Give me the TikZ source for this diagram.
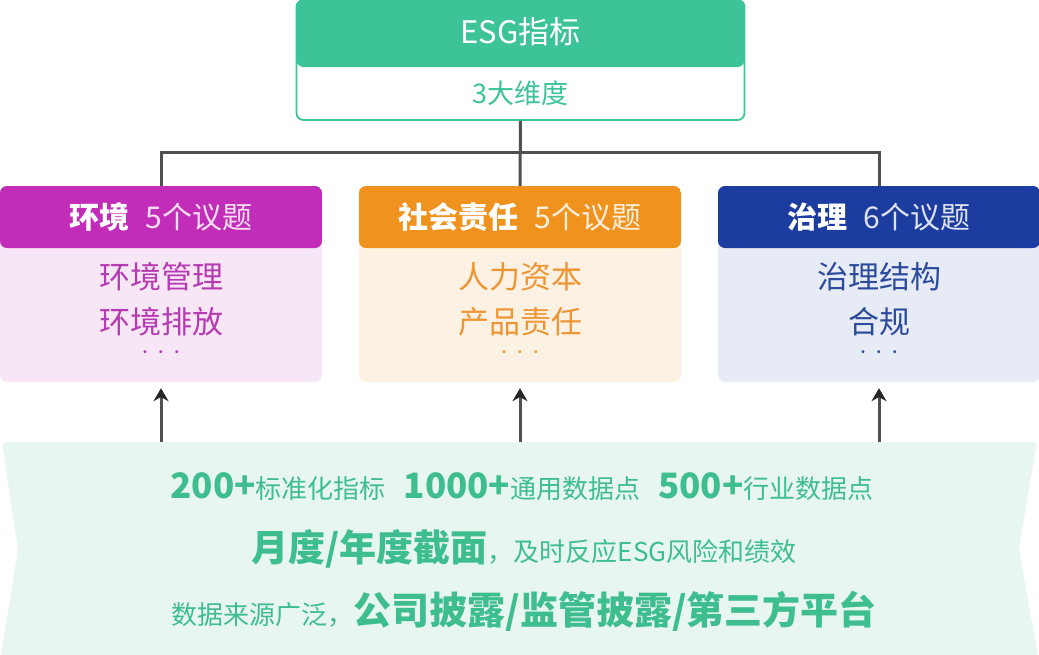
\documentclass[tikz,border=0pt]{standalone}
\usepackage{fontspec}
\setmainfont{Noto Sans CJK SC}
\usetikzlibrary{arrows.meta,positioning}

\definecolor{esgc}{HTML}{3CC398}
\definecolor{envh}{HTML}{C12DB8}
\definecolor{envb}{HTML}{F7E6F5}
\definecolor{envf}{HTML}{B63BB2}
\definecolor{soch}{HTML}{F0921E}
\definecolor{socb}{HTML}{FDF1E4}
\definecolor{socf}{HTML}{EE9633}
\definecolor{govh}{HTML}{1D3C9F}
\definecolor{govb}{HTML}{E7EBF6}
\definecolor{govf}{HTML}{2C4B9C}
\definecolor{bandc}{HTML}{E8F6F1}
\definecolor{bandf}{HTML}{3EBE8F}
\definecolor{linec}{HTML}{505050}

\newcommand\bigpart[2][37]{{\fontsize{#1}{#1}\selectfont\bfseries #2}}

\tikzset{
  hdr/.store in=\hdrh, hdr=62pt,
  card/.style={rounded corners=7pt, inner sep=0pt, minimum width=322pt, minimum height=196pt,
    path picture={\fill[#1] (path picture bounding box.north west)
      rectangle ([yshift=-\hdrh]path picture bounding box.north east);}},
  head/.style={text=white, font=\fontsize{30}{30}\selectfont},
  item/.style={font=\fontsize{31}{31}\selectfont},
  band/.style={text=bandf, font=\fontsize{26}{26}\selectfont}
}

\begin{document}
\begin{tikzpicture}[x=1pt, y=-1pt,
    tree/.style={draw=linec, line width=3pt},
    up/.style={draw=linec, line width=3pt, -{Stealth[length=13pt,width=15pt,black!85]}, shorten >=6pt}]

\useasboundingbox (0,0) rectangle (1039,654);

% data band
\fill[bandc, rounded corners=4pt] (2,442) -- (1037,442) -- (1019,548) -- (1039,662) -- (0,662) -- (18,550) -- cycle;
\coordinate (base) at (520,442);

% top box
\node[card=esgc, hdr=67pt, draw=esgc, line width=1.8pt, fill=white,
      minimum width=448pt, minimum height=120pt] (esg) at (520.5,60) {};
\node[head, font=\fontsize{31}{31}\selectfont] (esgt) at ([yshift=-33pt]esg.north) {ESG指标};
\node[text=esgc, font=\fontsize{27}{27}\selectfont] (esgd) at ([yshift=-94pt]esg.north) {3大维度};

% three cards
\foreach \n/\x/\k/\m/\a/\b in {env/161/环境/5/环境管理/环境排放,
    soc/520/社会责任/5/人力资本/产品责任, gov/879/治理/6/治理结构/合规} {
  \node[card=\n h, fill=\n b] (\n) at (\x,284) {};
  \node[head] (\n head) at ([yshift=-31pt]\n.north) {\textbf{\k}\hspace{16pt}{\color{white!85!\n h}\m 个议题}};
  \node[item, text=\n f] (\n one) at ([yshift=-91pt]\n.north) {\a};
  \node[item, text=\n f] (\n two) at ([yshift=-136pt]\n.north) {\b};
  \node[text=\n f, font=\fontsize{14}{14}\selectfont] (\n dots) at ([yshift=-168pt]\n.north) {·\hspace{2pt}·\hspace{2pt}·};
}

% tree
\coordinate (hub) at (520,152);
\draw[tree] (esg.south) -- (soc.north);
\draw[tree] (env.north) |- (hub) -| (gov.north);

% arrows up from the data band
\foreach \n in {env,soc,gov}
  \draw[up] (\n.south |- base) -- (\n.south);

% band text
\node[band] (lone) at (522,487) {\bigpart[35]{200+}标准化指标\hspace{18pt}\bigpart[35]{1000+}通用数据点\hspace{18pt}\bigpart[35]{500+}行业数据点};
\node[band] (ltwo) at (524,549) {\bigpart{月度/年度截面}，及时反应ESG风险和绩效};
\node[band] (lthree) at (524,611) {数据来源广泛，\bigpart[38]{公司披露/监管披露/第三方平台}};

\end{tikzpicture}
\end{document}
